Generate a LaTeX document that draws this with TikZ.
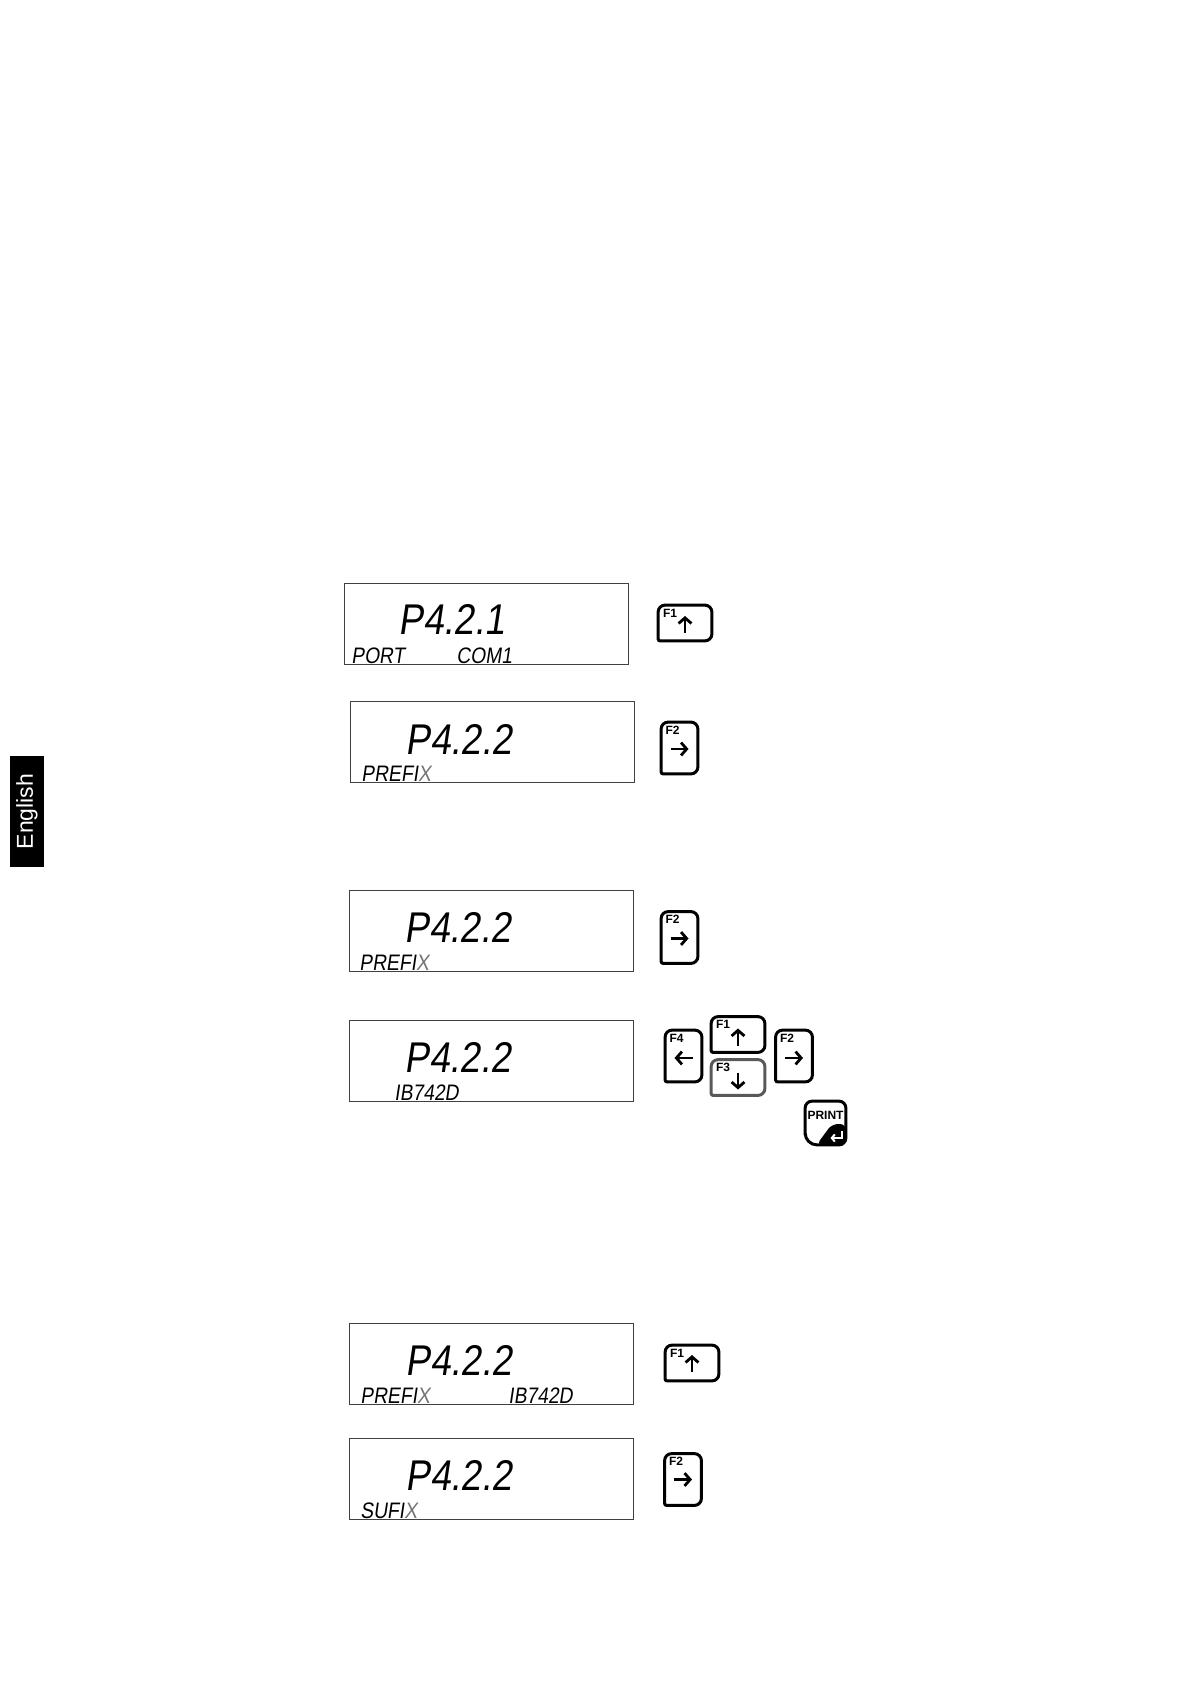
\documentclass[tikz,border=0pt]{standalone}
\usepackage{fontspec}
\setmainfont{Liberation Sans}
\newfontfamily\lcdfont[FakeSlant=0.15,FakeStretch=0.86]{Liberation Sans}
\usetikzlibrary{arrows.meta}

\begin{document}
\begin{tikzpicture}[x=.5pt,y=-.5pt,
  lcd/.style={draw=black!75,line width=.6pt,anchor=north west,minimum width=142pt,minimum height=40.5pt,inner sep=0pt},
  bigseg/.style={anchor=base west,inner sep=0pt,font=\lcdfont\fontsize{21.5}{24}\selectfont},
  smallseg/.style={anchor=base west,inner sep=0pt,font=\lcdfont\fontsize{11.2}{13}\selectfont},
  widekey/.style={minimum width=26.5pt,minimum height=17.5pt,inner sep=0pt},
  tallkey/.style={minimum width=18pt,minimum height=25.5pt,inner sep=0pt},
  keyline/.style={line width=1.5pt},
  keylabel/.style={anchor=base west,inner sep=0pt,font=\bfseries\fontsize{6}{7}\selectfont},
  keyarrow/.style={line width=1.4pt,-{Straight Barb[length=2.8pt,width=6.4pt]}}]
\useasboundingbox (0,0) rectangle (1191,1684);

% side tab
\node[fill=black,text=white,rotate=90,minimum width=55.5pt,minimum height=17pt,inner sep=0pt,
      font=\fontsize{11.5}{13}\selectfont] (tab) at (27,811.5) {English};

% displays
\node[lcd] (lcd1) at (344,583) {};
\node[lcd] (lcd2) at (350,701) {};
\node[lcd] (lcd3) at (349,890) {};
\node[lcd] (lcd4) at (349,1020) {};
\node[lcd] (lcd5) at (349,1323) {};
\node[lcd] (lcd6) at (349,1438) {};

\node[bigseg] at ([shift={(54,51)}]lcd1.north west) {P4.2.1};
\node[bigseg] at ([shift={(55,53)}]lcd2.north west) {P4.2.2};
\node[bigseg] at ([shift={(55,52)}]lcd3.north west) {P4.2.2};
\node[bigseg] at ([shift={(55,52)}]lcd4.north west) {P4.2.2};
\node[bigseg] at ([shift={(56,52)}]lcd5.north west) {P4.2.2};
\node[bigseg] at ([shift={(56,52)}]lcd6.north west) {P4.2.2};

\node[smallseg] at ([shift={(7,-2)}]lcd1.south west) {PORT};
\node[smallseg] at ([shift={(112,-2)}]lcd1.south west) {COM1};
\node[smallseg] at ([shift={(11,-2)}]lcd2.south west) {PREFI\textcolor{black!55}{X}};
\node[smallseg] at ([shift={(10,-2)}]lcd3.south west) {PREFI\textcolor{black!55}{X}};
\node[smallseg] at ([shift={(45,-2)}]lcd4.south west) {IB742D};
\node[smallseg] at ([shift={(11,-2)}]lcd5.south west) {PREFI\textcolor{black!55}{X}};
\node[smallseg] at ([shift={(159,-2)}]lcd5.south west) {IB742D};
\node[smallseg] at ([shift={(11,-2)}]lcd6.south west) {SUFI\textcolor{black!55}{X}};

% function keys
\foreach \k/\x/\y/\f/\c in {k1/685/623/F1/black, k5/738/1034.5/F1/black, k6/738/1077.5/F3/black!65, k9/692/1363/F1/black}{
  \node[widekey] (\k) at (\x,\y) {};
  \draw[keyline,draw=\c] (\k.south) [rounded corners=1pt] -- (\k.south west) -- (\k.west)
    [rounded corners=3.5pt] -- (\k.north west) -- (\k.north east) -- (\k.south east) -- cycle;
  \node[keylabel] at ([shift={(4.5,12)}]\k.north west) {\f};
}
\foreach \k/\x/\y/\f in {k2/679.5/748/F2, k3/679.5/937.5/F2, k4/683.5/1056/F4, k7/794/1056/F2, k10/683/1479.5/F2}{
  \node[tallkey] (\k) at (\x,\y) {};
  \draw[keyline] (\k.south) [rounded corners=1pt] -- (\k.south west) -- (\k.west)
    [rounded corners=3.5pt] -- (\k.north west) -- (\k.north east) -- (\k.south east) -- cycle;
  \node[keylabel] at ([shift={(4,12)}]\k.north west) {\f};
}

\draw[keyarrow] ([shift={(0,10)}]k1.center) -- ([shift={(0,-7)}]k1.center);
\draw[keyarrow] ([shift={(0,11)}]k5.center) -- ([shift={(0,-6)}]k5.center);
\draw[keyarrow] ([shift={(0,-5)}]k6.center) -- ([shift={(0,12)}]k6.center);
\draw[keyarrow] ([shift={(0,9)}]k9.center) -- ([shift={(0,-8)}]k9.center);
\draw[keyarrow] ([shift={(-9,1)}]k2.center) -- ([shift={(9,1)}]k2.center);
\draw[keyarrow] ([shift={(-9,1)}]k3.center) -- ([shift={(9,1)}]k3.center);
\draw[keyarrow] ([shift={(9,2)}]k4.center) -- ([shift={(-9,2)}]k4.center);
\draw[keyarrow] ([shift={(-9,2)}]k7.center) -- ([shift={(9,2)}]k7.center);
\draw[keyarrow] ([shift={(-9,0)}]k10.center) -- ([shift={(9,0)}]k10.center);

% print key
\node[minimum width=20pt,minimum height=21.5pt,inner sep=0pt] (k8) at (825.5,1123) {};
\fill[rounded corners=3pt] ([yshift=-.5pt]k8.east) -- ([shift={(-14,1)}]k8.east)
  -- ([shift={(-9,0)}]k8.south) -- (k8.south east) -- cycle;
\draw[keyline,rounded corners=3.5pt] (k8.north) -- (k8.north east) -- (k8.south east) -- (k8.south)
  [rounded corners=6pt] -- (k8.south west) -- (k8.west) [rounded corners=3.5pt] -- (k8.north west) -- cycle;
\node[anchor=base,inner sep=0pt,font=\bfseries\fontsize{6}{7}\selectfont] (prt) at ([yshift=2pt]k8.center) {PRINT};
\draw[white,line width=1pt,-{Straight Barb[length=1.5pt,width=3.6pt]}] ([shift={(16,8)}]k8.center)
  -- ([shift={(16,15)}]k8.center) -- ([shift={(5,15)}]k8.center);
\end{tikzpicture}
\end{document}
